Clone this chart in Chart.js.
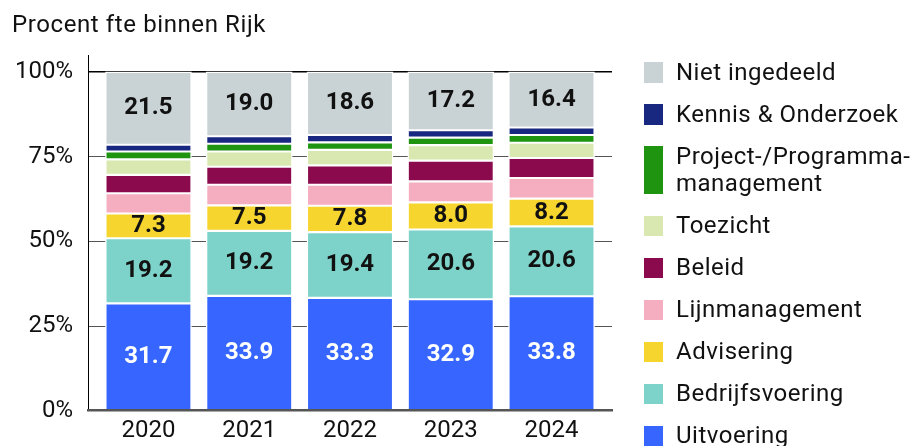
<!DOCTYPE html>
<html lang="nl">
<head>
<meta charset="utf-8">
<title>Procent fte binnen Rijk</title>
<script src="https://cdn.jsdelivr.net/npm/chart.js@4.4.1/dist/chart.umd.min.js"></script>
<style>
  body { margin: 0; background: #fff; }
  #wrap { position: relative; width: 917px; height: 446px; overflow: hidden; font-family: Roboto, sans-serif; color: #111; }
  #chart { position: absolute; left: 0; top: 0; display: block; }
  #titel { position: absolute; left: 12px; top: 12px; font-size: 24px; line-height: 24px; letter-spacing: 0.6px; white-space: nowrap; }
  #legenda { position: absolute; left: 644px; top: 58.7px; margin: 0; padding: 0; list-style: none; }
  #legenda li { display: flex; align-items: stretch; margin-bottom: 14.5px; }
  #legenda .blok { width: 19px; margin: 3.4px 0; flex: none; }
  #legenda .tekst { margin-left: 13px; font-size: 24px; line-height: 27.5px; letter-spacing: 0.5px; white-space: pre-line; }
</style>
</head>
<body>
<div id="wrap">
  <canvas id="chart" width="917" height="446"></canvas>
  <div id="titel">Procent fte binnen Rijk</div>
  <ul id="legenda"></ul>
</div>
<script>
// Jaren op de x-as
const years = ['2020', '2021', '2022', '2023', '2024'];
const yTicks = [0, 25, 50, 75, 100];

// Aandeel fte per functiecategorie (procent), van onder naar boven gestapeld
const uitvoering = [31.7, 33.9, 33.3, 32.9, 33.8];
const bedrijfsvoering = [19.2, 19.2, 19.4, 20.6, 20.6];
const advisering = [7.3, 7.5, 7.8, 8.0, 8.2];
const lijnmanagement = [6.0, 6.1, 6.2, 6.2, 6.1];
const beleid = [5.4, 5.3, 5.7, 6.1, 5.9];
const toezicht = [4.6, 4.5, 4.6, 4.6, 4.5];
const projectmanagement = [2.3, 2.3, 2.2, 2.2, 2.3];
const kennis = [2.0, 2.2, 2.2, 2.2, 2.2];
const nietIngedeeld = [21.5, 19.0, 18.6, 17.2, 16.4];

const categories = [
  'Uitvoering', 'Bedrijfsvoering', 'Advisering', 'Lijnmanagement', 'Beleid',
  'Toezicht', 'Project-/Programma-\nmanagement', 'Kennis & Onderzoek', 'Niet ingedeeld'
];
const series = [
  uitvoering, bedrijfsvoering, advisering, lijnmanagement, beleid,
  toezicht, projectmanagement, kennis, nietIngedeeld
];
const colors = [
  '#3666ff', '#7dd3ca', '#f6d52f', '#f5adc0', '#8b0a4d',
  '#d8e8b0', '#1f9410', '#18277f', '#c9d2d4'
];
// Alleen deze categorieen krijgen een waardelabel in de staaf
const labelled = ['Uitvoering', 'Bedrijfsvoering', 'Advisering', 'Niet ingedeeld'];

const FONT = 'Roboto';

// Waarden midden in het segment schrijven
const waardeLabels = {
  id: 'waardeLabels',
  afterDatasetsDraw(chart) {
    const ctx = chart.ctx;
    ctx.save();
    ctx.font = `bold 24px ${FONT}`;
    ctx.textAlign = 'center';
    ctx.textBaseline = 'middle';
    chart.data.datasets.forEach((ds, i) => {
      if (!labelled.includes(ds.label)) return;
      ctx.fillStyle = ds.label === 'Uitvoering' ? '#ffffff' : '#111111';
      chart.getDatasetMeta(i).data.forEach((bar, j) => {
        const { x, y, base } = bar.getProps(['x', 'y', 'base'], true);
        ctx.fillText(ds.data[j].y.toFixed(1), x, (y + base) / 2);
      });
    });
    ctx.restore();
  }
};

const datasets = categories.map((name, i) => ({
  label: name,
  data: series[i].map((v, j) => ({ x: j, y: v })),
  backgroundColor: colors[i],
  borderColor: '#ffffff',
  borderWidth: 1.4,
  borderSkipped: false,
  barThickness: 86
}));

new Chart(document.getElementById('chart'), {
  type: 'bar',
  data: { datasets: datasets },
  plugins: [waardeLabels],
  options: {
    responsive: false,
    animation: false,
    layout: { padding: { top: 55, left: 0, right: 305, bottom: 0 } },
    plugins: {
      legend: { display: false },
      tooltip: { enabled: false }
    },
    scales: {
      x: {
        type: 'linear',
        stacked: true,
        offset: false,
        min: -0.6,
        max: 4.6,
        afterBuildTicks: axis => { axis.ticks = years.map((y, i) => ({ value: i })); },
        afterFit: scale => { scale.height = 35.3; },
        grid: { drawOnChartArea: false, drawTicks: false },
        border: { display: true, color: '#555555', width: 2.5, z: 1 },
        ticks: {
          padding: 6,
          autoSkip: false,
          maxRotation: 0,
          color: '#111111',
          font: { family: FONT, size: 24 },
          callback: value => years[value]
        }
      },
      y: {
        stacked: true,
        min: 0,
        max: 105,
        afterBuildTicks: axis => { axis.ticks = yTicks.map(v => ({ value: v })); },
        afterFit: scale => { scale.width = 88; },
        grid: {
          drawTicks: false,
          color: ctx => (ctx.tick && ctx.tick.value === 100 ? '#000000' : '#555555'),
          lineWidth: ctx => {
            if (!ctx.tick) return 1;
            if (ctx.tick.value === 0) return 0;
            return ctx.tick.value === 100 ? 1.5 : 1;
          }
        },
        border: { display: true, color: '#000000', width: 1 },
        ticks: {
          padding: 15,
          color: '#111111',
          font: { family: FONT, size: 24 },
          callback: value => value + '%'
        }
      }
    }
  }
});

// Legenda in omgekeerde stapelvolgorde (bovenste segment eerst)
const legenda = document.getElementById('legenda');
categories.slice().reverse().forEach(name => {
  const i = categories.indexOf(name);
  const li = document.createElement('li');
  const blok = document.createElement('span');
  blok.className = 'blok';
  blok.style.background = colors[i];
  const tekst = document.createElement('span');
  tekst.className = 'tekst';
  tekst.textContent = name;
  li.appendChild(blok);
  li.appendChild(tekst);
  legenda.appendChild(li);
});
</script>
</body>
</html>
